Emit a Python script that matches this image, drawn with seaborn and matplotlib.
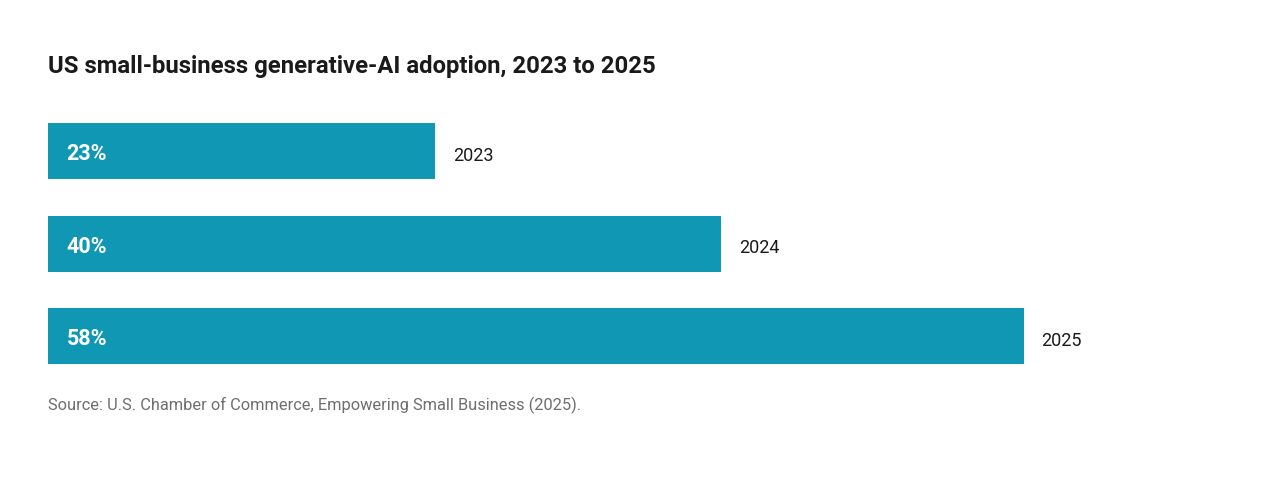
import pandas as pd
import matplotlib.pyplot as plt
import seaborn as sns

years = ["2023", "2024", "2025"]
adoption = [23, 40, 58]
title = "US small-business generative-AI adoption, 2023 to 2025"
source = "Source: U.S. Chamber of Commerce, Empowering Small Business (2025)."

bar_color = "#0f97b3"

sns.set_theme(style="white")
plt.rcParams['font.family'] = ['Roboto', 'DejaVu Sans']

df = pd.DataFrame({"year": years, "adoption": adoption})

fig = plt.figure(figsize=(12.8, 4.8), dpi=100)
px_per_unit = 16.82
ax = fig.add_axes([48 / 1280, 1 - 382.5 / 480, 1184 / 1280, 277.5 / 480])

sns.barplot(data=df, x="adoption", y="year", color=bar_color, saturation=1,
            width=0.605, orient="h", linewidth=0, ax=ax)

ax.set_xlim(0, 1184 / px_per_unit)
ax.set_ylim(2.5, -0.5)

# labels sit a touch below bar centre, like the original
for i, (yr, val) in enumerate(zip(years, adoption)):
    ax.text(1.1, i + 0.03, f"{val}%", color="white", fontsize=15.5, fontweight="bold",
            va="center", ha="left")
    ax.text(val + 1.07, i + 0.05, yr, color="#1a1a1a", fontsize=13,
            va="center", ha="left")

ax.set_axis_off()

fig.text(48 / 1280, 1 - 66 / 480, title, fontsize=17.2, fontweight="bold",
         color="#1a1a1a", va="center", ha="left")
fig.text(48 / 1280, 1 - 405 / 480, source, fontsize=11.8, color="#6e6e6e",
         va="center", ha="left")

fig.savefig("out.png", dpi=100, facecolor="white")
